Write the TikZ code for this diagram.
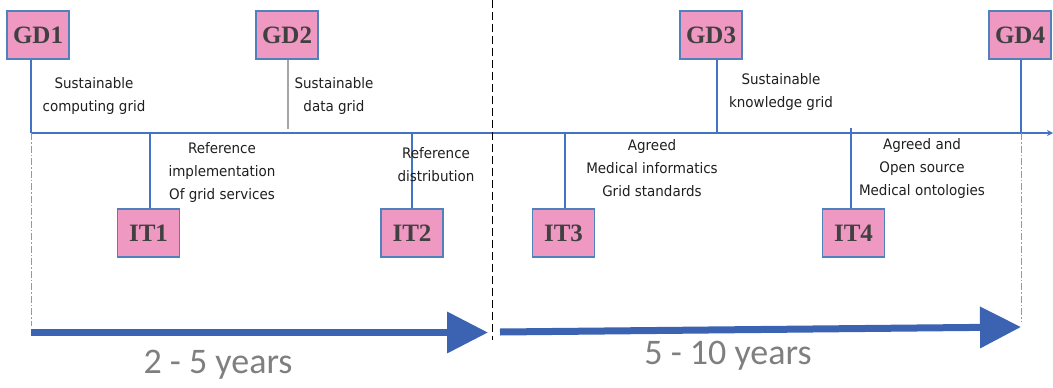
\documentclass[tikz,border=0pt]{standalone}
\usepackage{fontspec}
\usetikzlibrary{arrows.meta}
\newfontfamily\labelfont{Liberation Serif}
\newfontfamily\notefont[FakeStretch=0.93]{DejaVu Sans}
\newfontfamily\spanfont{Carlito}
\definecolor{boxpink}{HTML}{EE98C2}
\definecolor{boxedge}{HTML}{4F81BD}
\definecolor{lineblue}{HTML}{4472C4}
\definecolor{bandblue}{HTML}{3C63B1}
\definecolor{labelgray}{HTML}{404040}
\definecolor{spangray}{HTML}{7F7F7F}
\tikzset{
  milestone/.style={draw=boxedge, line width=1.2pt, fill=boxpink, minimum width=62pt,
    minimum height=48pt, inner sep=0pt, text=labelgray,
    font=\labelfont\bfseries\fontsize{25}{25}\selectfont},
  note/.style={align=center, text=black!88, inner sep=0pt,
    font=\notefont\fontsize{14.5}{23}\selectfont},
  tick/.style={draw=lineblue, line width=1.1pt},
  guide/.style={draw=lineblue!70, line width=0.9pt, dash pattern=on 7pt off 2pt on 1.5pt off 2pt},
  band/.style={draw=bandblue, line width=7pt, -{Triangle[length=41pt,width=40pt]}},
  span/.style={text=spangray, anchor=base, font=\spanfont\fontsize{36}{36}\selectfont}
}
\begin{document}
\begin{tikzpicture}[x=1pt,y=-1pt]
\useasboundingbox (0,0) rectangle (1053,388);

% time axis
\coordinate (t0) at (31,133);
\coordinate (tE) at (1053,133);
\draw[tick, -{Stealth[length=6pt,width=6pt]}] (t0) -- (tE);

% milestone boxes
\node[milestone] (GD1) at (38,35) {GD1};
\node[milestone] (GD2) at (287,35) {GD2};
\node[milestone] (GD3) at (711,35) {GD3};
\node[milestone] (GD4) at (1020,35) {GD4};
\node[milestone] (IT1) at (148.5,233) {IT1};
\node[milestone] (IT2) at (412,233) {IT2};
\node[milestone] (IT3) at (563.5,233) {IT3};
\node[milestone] (IT4) at (853.5,233) {IT4};

% points on the axis
\coordinate (a1) at (31,133);
\coordinate (a2) at (288,129);
\coordinate (a3) at (717,133);
\coordinate (a4) at (1021,133);
\coordinate (b1) at (150,133);
\coordinate (b2) at (412,133);
\coordinate (b3) at (565,133);
\coordinate (b4) at (851,128);

% stems from the boxes to the axis
\draw[tick] (a1 |- GD1.south) -- (a1);
\draw[draw=gray!70, line width=1.1pt] (a2 |- GD2.south) -- (a2);
\draw[tick] (a3 |- GD3.south) -- (a3);
\draw[tick] (a4 |- GD4.south) -- (a4);
\draw[tick] (b1) -- (b1 |- IT1.north);
\draw[tick] (b2) -- (b2 |- IT2.north);
\draw[tick] (b3) -- (b3 |- IT3.north);
\draw[tick] (b4) -- (b4 |- IT4.north);

% guides down to the period bands
\coordinate (g1) at (31,326);
\coordinate (g4) at (1021,322);
\draw[guide] (a1) -- (g1);
\draw[guide] (a4) -- (g4);

% boundary between the two periods
\coordinate (d0) at (492,0);
\coordinate (d1) at (492,340);
\draw[black, line width=1pt, dash pattern=on 8pt off 4pt] (d0) -- (d1);

% notes
\node[note] (n1) at (94,96) {Sustainable\\computing grid};
\node[note] (n2) at (334,96) {Sustainable\\data grid};
\node[note] (n3) at (781,92) {Sustainable\\knowledge grid};
\node[note] (n4) at (222,172) {Reference\\implementation\\Of grid services};
\node[note] (n5) at (436,165) {Reference\\distribution};
\node[note] (n6) at (652,168) {Agreed\\Medical informatics\\Grid standards};
\node[note] (n7) at (922,168) {Agreed and\\Open source\\Medical ontologies};

% period bands
\coordinate (p0) at (31,332.5);
\coordinate (p1) at (488,332.5);
\coordinate (q0) at (500,332);
\coordinate (q1) at (1021,327);
\draw[band] (p0) -- (p1);
\draw[band] (q0) -- (q1);

\node[span] (y1) at (218,373) {2 - 5 years};
\node[span] (y2) at (728,364) {5 - 10 years};
\end{tikzpicture}
\end{document}
